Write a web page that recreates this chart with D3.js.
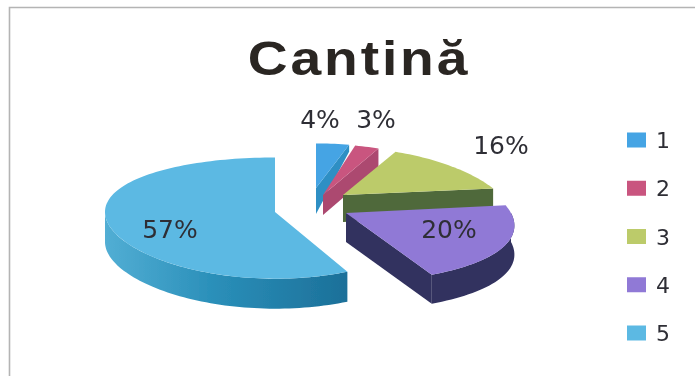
<!DOCTYPE html>
<html><head><meta charset="utf-8">
<script src="https://cdn.jsdelivr.net/npm/d3@7"></script>
<style>html,body{margin:0;padding:0;background:#fff;overflow:hidden}svg{display:block}</style>
</head><body><svg id="c" width="695" height="376"></svg>
<script>
const title = "Cantină";
const categories = ["1","2","3","4","5"];
const values = [4,3,16,20,57];
const labels = ["4%","3%","16%","20%","57%"];
const topColors = ["#45a4e4","#c9557f","#bccb6b","#9079d6","#5cb9e3"];
const sideColors = ["#2f8fc4","#ac4870","#50693a","#30305f","#1c7099"];
const rimLight = ["#2f8fc4","#ac4870","#50693a","#30305f","#52aed4"];

// layout (separate from data)
const sliceCx = [316,323,343,346,275];
const sliceCy = [188,195,195,213,212];
const sliceRx = [146,142,157,165,170];
const sliceRy = [49,56,52,62,60];
const sliceDepth = [26,20,27,29,30];
const outerDepth = [7,19,27,29,30];
const perspY = 0.1;
const perspX = [0.1,0.1,0.3,0.2,0];
const labelX = [320,376,501,449,170];
const labelY = [128,128,154,238,238];

const svg = d3.select("#c");
const defs = svg.append("defs");
defs.append("filter").attr("id","soft").attr("x","-5%").attr("y","-5%").attr("width","110%").attr("height","110%")
  .append("feGaussianBlur").attr("stdDeviation",0.55);
const grad = defs.append("linearGradient").attr("id","rim5").attr("x1","0").attr("x2","1").attr("y1","0").attr("y2","0");
grad.append("stop").attr("offset","0").attr("stop-color",rimLight[4]);
grad.append("stop").attr("offset","0.45").attr("stop-color","#2a8fb9");
grad.append("stop").attr("offset","1").attr("stop-color",sideColors[4]);

const root = svg.append("g").attr("filter","url(#soft)");
root.append("path").attr("d","M9.5 376V7.5H695").attr("fill","none").attr("stroke","#b4b4b4").attr("stroke-width",1.6);

const arcs = d3.pie().sort(null).startAngle(0).endAngle(2*Math.PI)(values);
const line = d3.line();

function project(i, t, r){
  const u = Math.sin(t)*r, v = -Math.cos(t)*r;
  return [sliceCx[i]+sliceRx[i]*u/(1-perspX[i]*v), sliceCy[i]+sliceRy[i]*v/(1-perspY*v)];
}
function arcPoints(i, a, b){
  const n = Math.max(2, Math.ceil((b-a)/0.03));
  return d3.range(n+1).map(k => project(i, a+(b-a)*k/n, 1));
}
const down = (p,d) => [p[0],p[1]+d];

arcs.forEach((d,i) => {
  const a = d.startAngle, b = d.endAngle, h = sliceDepth[i], ho = outerDepth[i];
  const g = root.append("g");
  const fillSide = i===4 ? "url(#rim5)" : sideColors[i];
  const apex = project(i,0,0);
  if (Math.sin(a) < -1e-6) {
    const p = project(i,a,1);
    g.append("path").attr("d",line([apex,p,down(p,ho),down(apex,h)])+"Z").attr("fill",sideColors[i]);
  }
  if (Math.sin(b) > 1e-6) {
    const p = project(i,b,1);
    g.append("path").attr("d",line([apex,p,down(p,ho),down(apex,h)])+"Z").attr("fill",sideColors[i]);
  }
  const ra = Math.max(a,Math.PI/2), rb = Math.min(b,1.5*Math.PI);
  if (rb > ra) {
    const pts = arcPoints(i,ra,rb);
    g.append("path").attr("d",line(pts.concat(pts.slice().reverse().map(p=>down(p,ho))))+"Z").attr("fill",fillSide);
  }
  g.append("path").attr("d",line([apex].concat(arcPoints(i,a,b)))+"Z").attr("fill",topColors[i]);
});

root.append("text").attr("transform","translate(359,75) scale(1.15,1)").attr("text-anchor","middle")
  .attr("font-family","'Liberation Sans',Arial,sans-serif").attr("font-weight","bold")
  .attr("font-size",48).attr("letter-spacing",2.5).attr("fill","#2a2624").text(title);

root.selectAll("text.pct").data(labels).join("text").attr("class","pct")
  .attr("x",(d,i)=>labelX[i]).attr("y",(d,i)=>labelY[i]).attr("text-anchor","middle")
  .attr("font-family","'DejaVu Sans',sans-serif").attr("font-size",25).attr("fill","#2e2e35").text(d=>d);

const legendY = d3.scalePoint().domain(categories).range([140,333]);
const lg = root.selectAll("g.lg").data(categories).join("g").attr("class","lg")
  .attr("transform",d=>`translate(627,${legendY(d)})`);
lg.append("rect").attr("x",0).attr("y",-7.5).attr("width",19).attr("height",15).attr("fill",(d,i)=>topColors[i]);
lg.append("text").attr("x",29).attr("y",8).attr("font-family","'DejaVu Sans',sans-serif")
  .attr("font-size",22).attr("fill","#2e2e35").text(d=>d);
</script></body></html>
